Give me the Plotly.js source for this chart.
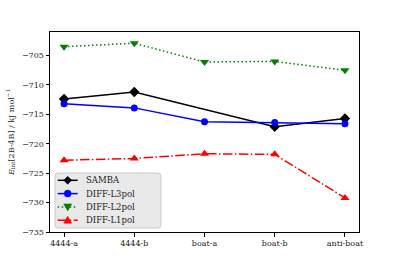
<!DOCTYPE html>
<html><head><meta charset="utf-8">
<script src="https://cdn.plot.ly/plotly-3.0.1.min.js"></script>
<style>html,body{margin:0;padding:0;background:#fff}</style>
</head><body><div id="c" style="width:399px;height:266px"></div>
<script>
const categories = ["4444-a","4444-b","boat-a","boat-b","anti-boat"];
const samba = [-712.4, -711.2, null, -717.1, -715.7];
const diffL3 = [-713.2, -713.9, -716.25, -716.4, -716.6];
const diffL2 = [-703.5, -702.9, -706.1, -706.0, -707.5];
const diffL1 = [-722.8, -722.5, -721.7, -721.8, -729.2];
const yTicks = [-735, -730, -725, -720, -715, -710, -705];
const xIdx = categories.map((c,i)=>i);

const W = 399, H = 266, ML = 50, MR = 40, MT = 32, MB = 34;
const PW = W - ML - MR, PH = H - MT - MB;
const X = px => (px - ML) / PW;
const Y = py => (H - MB - py) / PH;

const fam = "DejaVu Serif, Liberation Serif, serif";
const font = {family: fam, size: 8, color: "#222"};
const DOT = "1.5px,2.5px", DASHDOT = "9.6px,2.4px,1.5px,2.4px";
const traces = [
  {name:"SAMBA", x:xIdx, y:samba, mode:"lines+markers", connectgaps:true,
   line:{color:"black", width:1.5}, marker:{symbol:"diamond", size:8, color:"black"}},
  {name:"DIFF-L3pol", x:xIdx, y:diffL3, mode:"lines+markers",
   line:{color:"blue", width:1.5}, marker:{symbol:"circle", size:7, color:"blue"}},
  {name:"DIFF-L2pol", x:xIdx, y:diffL2, mode:"lines+markers",
   line:{color:"green", width:1.5, dash:DOT}, marker:{symbol:"triangle-down", size:8, color:"green"}},
  {name:"DIFF-L1pol", x:xIdx, y:diffL1, mode:"lines+markers",
   line:{color:"red", width:1.5, dash:DASHDOT}, marker:{symbol:"triangle-up", size:8, color:"red"}}
];

// custom compact legend (matplotlib-like)
const shapes = [];
const annotations = [];
const bx0 = 55, bx1 = 161, by0 = 173, by1 = 228, r = 3;
shapes.push({type:"path", xref:"paper", yref:"paper", layer:"above",
  path:`M ${X(bx0+r)} ${Y(by0)} L ${X(bx1-r)} ${Y(by0)} Q ${X(bx1)} ${Y(by0)} ${X(bx1)} ${Y(by0+r)} L ${X(bx1)} ${Y(by1-r)} Q ${X(bx1)} ${Y(by1)} ${X(bx1-r)} ${Y(by1)} L ${X(bx0+r)} ${Y(by1)} Q ${X(bx0)} ${Y(by1)} ${X(bx0)} ${Y(by1-r)} L ${X(bx0)} ${Y(by0+r)} Q ${X(bx0)} ${Y(by0)} ${X(bx0+r)} ${Y(by0)} Z`,
  fillcolor:"rgba(229,229,229,0.85)", line:{color:"#cccccc", width:1}});
const rowY = [180.3, 193.6, 206.9, 220.2];
traces.forEach((t, i) => {
  const yy = rowY[i], lx0 = 57.7, lx1 = 77.7, mx = 67.7;
  shapes.push({type:"line", xref:"paper", yref:"paper", layer:"above",
    x0:X(lx0), x1:X(lx1), y0:Y(yy), y1:Y(yy),
    line:{color:t.line.color, width:t.line.width, dash:t.line.dash || "solid"}});
  const s = 4, c = t.marker.color;
  let path = null;
  if (t.marker.symbol === "diamond")
    path = `M ${X(mx)} ${Y(yy-s)} L ${X(mx+s)} ${Y(yy)} L ${X(mx)} ${Y(yy+s)} L ${X(mx-s)} ${Y(yy)} Z`;
  else if (t.marker.symbol === "triangle-down")
    path = `M ${X(mx-s)} ${Y(yy-s*0.75)} L ${X(mx+s)} ${Y(yy-s*0.75)} L ${X(mx)} ${Y(yy+s)} Z`;
  else if (t.marker.symbol === "triangle-up")
    path = `M ${X(mx-s)} ${Y(yy+s*0.75)} L ${X(mx+s)} ${Y(yy+s*0.75)} L ${X(mx)} ${Y(yy-s)} Z`;
  if (path) shapes.push({type:"path", xref:"paper", yref:"paper", layer:"above", path,
    fillcolor:c, line:{color:c, width:0.5}});
  else shapes.push({type:"circle", xref:"paper", yref:"paper", layer:"above",
    x0:X(mx-3.5), x1:X(mx+3.5), y0:Y(yy+3.5), y1:Y(yy-3.5), fillcolor:c, line:{color:c, width:0.5}});
  annotations.push({xref:"paper", yref:"paper", x:X(84), y:Y(yy), xanchor:"left", yanchor:"middle",
    text:t.name, showarrow:false, font:{family:fam, size:8.5, color:"#222"}});
});

const layout = {
  width:W, height:H,
  margin:{l:ML, r:MR, t:MT, b:MB},
  paper_bgcolor:"white", plot_bgcolor:"white",
  font: font,
  showlegend:false,
  shapes, annotations,
  xaxis:{range:[-0.2,4.2], tickvals:xIdx, ticktext:categories, showgrid:false, zeroline:false,
    showline:true, linecolor:"black", linewidth:1, mirror:true, ticks:"outside", ticklen:3.5,
    tickcolor:"black", tickfont:font},
  yaxis:{range:[-735,-701], tickvals:yTicks, ticktext:yTicks.map(v=>"−"+Math.abs(v)), showgrid:false, zeroline:false,
    showline:true, linecolor:"black", linewidth:1, mirror:true, ticks:"outside", ticklen:3.5,
    tickcolor:"black", tickfont:font,
    title:{text:"<i>E</i><sub>int</sub>[2B-4B] / kJ mol<sup>−1</sup>", font:{family:fam, size:8, color:"#222"}, standoff:6}}
};
Plotly.newPlot("c", traces, layout, {displayModeBar:false, staticPlot:true});
</script></body></html>
